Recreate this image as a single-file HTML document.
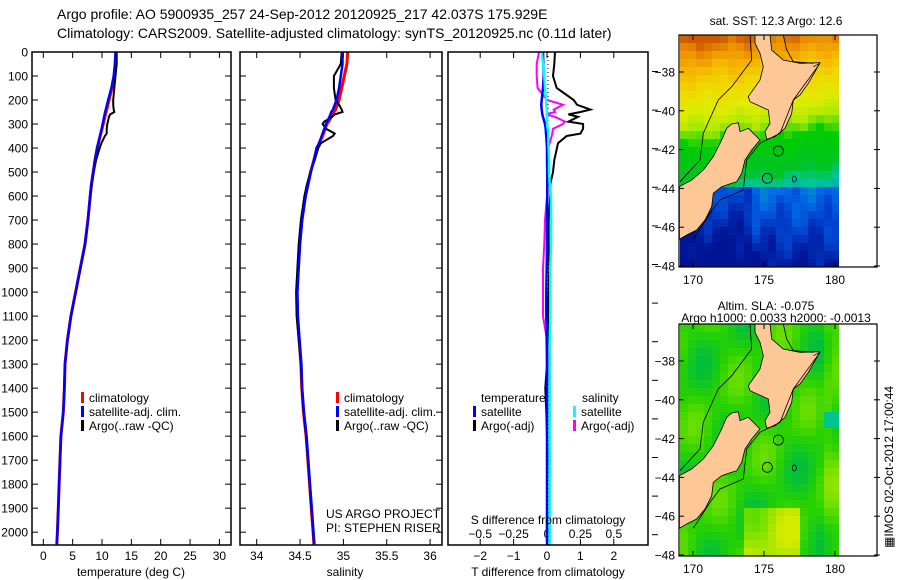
<!DOCTYPE html>
<html><head><meta charset="utf-8"><style>
body{margin:0;background:#fff;}
svg{display:block;font-family:"Liberation Sans",sans-serif;}
text{fill:#000;}
</style></head><body>
<svg id="fig" width="900" height="580" viewBox="0 0 900 580">
<text x="57" y="19" font-size="14">Argo profile: AO 5900935_257 24-Sep-2012 20120925_217 42.037S 175.929E</text>
<text x="57" y="38" font-size="14">Climatology: CARS2009. Satellite-adjusted climatology: synTS_20120925.nc (0.11d later)</text>
<g id="p1"></g>
<g id="p2"></g>
<g id="p3"></g>
<g id="m1"></g>
<g id="m2"></g>
<text transform="translate(893,548) rotate(-90)" font-size="12">&#9638;IMOS 02-Oct-2012 17:00:44</text>
</svg>
<script>
const depths=[0,50,100,150,200,220,240,250,260,270,290,300,320,340,350,380,400,450,500,550,600,700,800,900,1000,1100,1200,1300,1400,1500,1600,1700,1800,1900,2000,2050];
const tempClim=[12.4,12.3,12.1,11.7,11.2,11.0,10.8,10.7,10.6,10.5,10.3,10.2,10.0,9.8,9.7,9.4,9.2,8.8,8.5,8.2,8.0,7.6,7.1,6.3,5.5,4.7,4.1,3.7,3.6,3.4,3.0,2.85,2.7,2.55,2.4,2.3];
const tempSat=[12.3,12.2,12.0,11.6,11.05,10.85,10.65,10.55,10.45,10.35,10.2,10.1,9.95,9.75,9.65,9.35,9.15,8.8,8.5,8.2,7.95,7.6,7.1,6.3,5.5,4.7,4.1,3.7,3.6,3.4,3.0,2.85,2.7,2.55,2.4,2.3];
const tempArgo=[12.5,12.5,12.3,12.1,11.9,11.9,12.0,12.1,11.4,11.2,11.0,10.9,10.8,10.8,10.5,9.9,9.6,9.0,8.6,8.3,8.0,7.65,7.15,6.35,5.55,4.75,4.15,3.7,3.55,3.4,3.0,2.85,2.7,2.55,2.4,2.3];
const salClim=[35.05,35.04,35.01,34.98,34.95,34.93,34.91,34.89,34.88,34.86,34.83,34.81,34.79,34.77,34.76,34.72,34.70,34.66,34.62,34.59,34.56,34.52,34.495,34.48,34.465,34.47,34.49,34.51,34.52,34.54,34.57,34.59,34.61,34.63,34.65,34.66];
const salSat=[34.99,34.99,34.97,34.95,34.92,34.90,34.88,34.86,34.85,34.84,34.81,34.80,34.78,34.76,34.75,34.72,34.69,34.66,34.625,34.595,34.565,34.525,34.5,34.485,34.47,34.475,34.495,34.515,34.525,34.545,34.575,34.595,34.615,34.635,34.655,34.665];
const salArgo=[34.98,34.97,34.89,34.89,34.91,34.95,34.98,34.99,34.90,34.87,34.78,34.76,34.80,34.90,34.88,34.74,34.71,34.67,34.62,34.58,34.55,34.51,34.485,34.47,34.455,34.46,34.485,34.51,34.52,34.54,34.57,34.59,34.61,34.63,34.65,34.66];
const dTsat=[-0.12,-0.11,-0.1,-0.12,-0.16,-0.17,-0.16,-0.15,-0.14,-0.12,-0.08,-0.06,-0.04,-0.03,-0.02,-0.01,0,0,0.01,0.01,0.01,0,0,-0.01,-0.02,-0.02,-0.01,0,0,0,0,0,0,0,0,0];
const dTargo=[0.24,0.22,0.18,0.29,0.8,0.9,1.3,1.0,0.64,0.93,0.64,1.08,1.08,1.0,0.59,0.33,0.3,0.22,0.18,0.1,0.1,0.05,0.05,0.07,0.05,0.03,0.03,0,-0.05,-0.02,0,0.01,0,0,0,0];
const dSsat=[-0.04,-0.03,-0.02,-0.015,-0.007,-0.005,-0.003,0,0,0,0,0,0.005,0.01,0.01,0.01,0.012,0.015,0.015,0.02,0.03,0.03,0.03,0.025,0.025,0.025,0.02,0.02,0.02,0.02,0.02,0.02,0.02,0.02,0.02,0.02];
const dSargo=[-0.06,-0.077,-0.077,-0.07,0,0.12,0.05,0.06,-0.01,0.06,0.135,0.12,0.045,0.04,0.035,0.02,0.01,0.005,0.005,0,0,-0.015,-0.02,-0.03,-0.03,-0.03,0,0.01,0.02,0.02,0.02,0.02,0.02,0.02,0.02,0.02];
const depthTicks=[0,100,200,300,400,500,600,700,800,900,1000,1100,1200,1300,1400,1500,1600,1700,1800,1900,2000];
const tempTicks=[0,5,10,15,20,25,30];
const salTicks=[34,34.5,35,35.5,36];
const salTickLabels=["34","34.5","35","35.5","36"];
const dTTicks=[-2,-1,0,1,2];
const dSTicks=[-0.5,-0.25,0,0.25,0.5];
const dSTickLabels=["-0.5","-0.25","0","0.25","0.5"];
const latTicks=[38,40,42,44,46,48];
const lonTicks=[170,175,180];

const NS="http://www.w3.org/2000/svg";
function mk(parent,tag,attrs,txt){const e=document.createElementNS(NS,tag);for(const k in attrs)e.setAttribute(k,attrs[k]);if(txt!==undefined)e.textContent=txt;parent.appendChild(e);return e;}
const TOP=52,BOT=545;
const yD=d=>TOP+d*0.2401;
const xT=t=>43.3+t*5.87;
const xS=s=>256.7+(s-34)*86.7;
const xdT=v=>547+v*33.4;
const xdS=v=>547+v*133.6;

function frame(g,x0,x1){
  const r=mk(g,'rect',{x:x0,y:TOP,width:x1-x0,height:BOT-TOP,fill:'none',stroke:'#000','stroke-width':1.5});
  
  
}
function series(g,xs,fn,color,w,name){
  const pts=xs.map((v,i)=>fn(v).toFixed(1)+','+yD(depths[i]).toFixed(1)).join(' ');
  const p=mk(g,'polyline',{points:pts,fill:'none',stroke:color,'stroke-width':w,'stroke-linejoin':'miter'});
  
  
}
function legend(g,x,y,items,name){
  items.forEach((it,i)=>{
    const yy=y+i*14;
    const b=mk(g,'rect',{x:x,y:yy-10,width:3,height:11,fill:it[1]});
    
    
    const t=mk(g,'text',{x:x+8,y:yy,'font-size':12},it[0]);
    
    
  });
}

// Panel 1
const p1=document.getElementById('p1');
depthTicks.forEach(d=>{
  const y=yD(d);
  mk(p1,'line',{x1:32,x2:38,y1:y,y2:y,stroke:'#000'});
  mk(p1,'line',{x1:225,x2:231,y1:y,y2:y,stroke:'#000'});
  const t=mk(p1,'text',{x:28,y:y+4.5,'font-size':12,'text-anchor':'end'},String(d));
  
  
});
tempTicks.forEach(v=>{
  const x=xT(v);
  mk(p1,'line',{x1:x,x2:x,y1:TOP,y2:TOP+6,stroke:'#000'});
  mk(p1,'line',{x1:x,x2:x,y1:BOT-6,y2:BOT,stroke:'#000'});
  const t=mk(p1,'text',{x:x,y:560,'font-size':12,'text-anchor':'middle'},String(v));
  
  
});
series(p1,tempClim,xT,'#f00',3,'temp-climatology-line');
series(p1,tempArgo,xT,'#000',2,'temp-argo-line');
series(p1,tempSat,xT,'#00f',2.5,'temp-satellite-line');
frame(p1,32,231);
legend(p1,81,402,[['climatology','#f00'],['satellite-adj. clim.','#00f'],['Argo(..raw -QC)','#000']],'temp-legend');
let tt=mk(p1,'text',{x:131,y:576,'font-size':12,'text-anchor':'middle'},'temperature (deg C)');



// Panel 2
const p2=document.getElementById('p2');
depthTicks.forEach(d=>{
  const y=yD(d);
  mk(p2,'line',{x1:240,x2:246,y1:y,y2:y,stroke:'#000'});
  mk(p2,'line',{x1:436,x2:442,y1:y,y2:y,stroke:'#000'});
});
salTicks.forEach((v,i)=>{
  const x=xS(v);
  mk(p2,'line',{x1:x,x2:x,y1:TOP,y2:TOP+6,stroke:'#000'});
  mk(p2,'line',{x1:x,x2:x,y1:BOT-6,y2:BOT,stroke:'#000'});
  const t=mk(p2,'text',{x:x,y:560,'font-size':12,'text-anchor':'middle'},salTickLabels[i]);
  
  
});
series(p2,salClim,xS,'#f00',3,'sal-climatology-line');
series(p2,salArgo,xS,'#000',2,'sal-argo-line');
series(p2,salSat,xS,'#00f',2.5,'sal-satellite-line');
frame(p2,240,442);
legend(p2,336,402,[['climatology','#f00'],['satellite-adj. clim.','#00f'],['Argo(..raw -QC)','#000']],'sal-legend');
tt=mk(p2,'text',{x:345,y:576,'font-size':12,'text-anchor':'middle'},'salinity');


tt=mk(p2,'text',{x:326,y:518,'font-size':12},'US ARGO PROJECT');


tt=mk(p2,'text',{x:326,y:532,'font-size':12},'PI: STEPHEN RISER');



// Panel 3
const p3=document.getElementById('p3');
mk(p3,'line',{x1:548,x2:548,y1:TOP,y2:BOT,stroke:'#000','stroke-dasharray':'1,3'});
dTTicks.forEach(v=>{
  const x=xdT(v);
  mk(p3,'line',{x1:x,x2:x,y1:BOT-6,y2:BOT,stroke:'#000'});
  const t=mk(p3,'text',{x:x,y:560,'font-size':12,'text-anchor':'middle'},v<0?'\u2212'+(-v):String(v));
  
  
});
dSTicks.forEach((v,i)=>{
  const x=xdS(v);
  mk(p3,'line',{x1:x,x2:x,y1:TOP,y2:TOP+6,stroke:'#000'});
  const t=mk(p3,'text',{x:x,y:538,'font-size':12,'text-anchor':'middle'},dSTickLabels[i].replace('-','\u2212'));
  
  
});
for(let k=0;k<13;k++){const y=71.5+k*38.6;if(y<BOT)mk(p3,'line',{x1:652,x2:658,y1:y,y2:y,stroke:'#000'});}
series(p3,dTargo,xdT,'#000',2,'t-diff-argo-line');
series(p3,dSargo,xdS,'#f0f',2,'s-diff-argo-line');
series(p3,dTsat,xdT,'#00f',2.5,'t-diff-satellite-line');
series(p3,dSsat,xdS,'#0ff',2.5,'s-diff-satellite-line');
frame(p3,448,648);
tt=mk(p3,'text',{x:481,y:402,'font-size':12},'temperature');


tt=mk(p3,'text',{x:582,y:402,'font-size':12},'salinity');


legend(p3,473,416,[['satellite','#00f'],['Argo(-adj)','#000']],'t-diff-legend');
legend(p3,573,416,[['satellite','#0ff'],['Argo(-adj)','#f0f']],'s-diff-legend');
tt=mk(p3,'text',{x:548,y:524,'font-size':12,'text-anchor':'middle'},'S difference from climatology');


tt=mk(p3,'text',{x:548,y:576,'font-size':12,'text-anchor':'middle'},'T difference from climatology');



// Maps
const north=[[285,105],[330,105],[335,150],[370,180],[420,190],[480,188],[465,215],[445,250],[420,285],[400,300],[395,340],[375,385],[345,410],[320,418],[315,395],[330,370],[325,330],[270,305],[265,290],[300,240],[310,200],[300,160],[285,130]];
const south=[[215,372],[235,368],[240,395],[265,385],[285,405],[300,420],[275,450],[255,480],[245,520],[230,545],[215,550],[185,560],[160,580],[155,620],[135,660],[110,690],[80,705],[58,718],[58,560],[95,540],[130,510],[160,470],[185,420],[200,385]];
function sstColor(lat,lon){
  const n=0.35*Math.sin(lon*2.1+lat*1.3)+0.25*Math.cos(lon*3.7-lat*2.2);
  let v=lat-36+n*0.5+(lon-175)*0.08;
  if(lat>43.9) v=10+(lat-44)*0.6+n*1.2+(lon<174?0.8:0);
  const stops=[[0,[205,90,0]],[0.6,[235,140,0]],[1.4,[245,180,0]],[2.4,[240,215,0]],[3.6,[225,235,0]],[4.6,[170,235,0]],[5.4,[0,205,0]],[7.2,[0,195,40]],[7.8,[0,200,150]],[10,[0,110,230]],[11,[0,70,210]],[12.5,[0,20,150]]];
  return interp(stops,v);
}
function slaColor(lat,lon){
  let v=0.55+0.3*Math.sin(lon*0.9+lat*1.2)+0.25*Math.cos(lon*1.5-lat*0.7);
  if(lat>45.6&&lon>173.5&&lon<177.5) v+=1.0;
  if(lon>179) v+=0.3;
  if(lat>40.6&&lat<41.6&&lon>179) v=-0.6;
  const stops=[[-1,[0,200,200]],[0,[0,190,60]],[0.6,[40,210,0]],[1.2,[120,225,0]],[2,[215,235,0]]];
  return interp(stops,v);
}
function interp(stops,v){
  if(v<=stops[0][0])return 'rgb('+stops[0][1].join(',')+')';
  for(let i=1;i<stops.length;i++){
    if(v<=stops[i][0]){const a=stops[i-1],b=stops[i];const f=(v-a[0])/(b[0]-a[0]);
      return 'rgb('+a[1].map((c,j)=>Math.round(c+(b[1][j]-c)*f)).join(',')+')';}
  }
  return 'rgb('+stops[stops.length-1][1].join(',')+')';
}
function drawMap(id,top,colorFn,title1,title2){
  const g=document.getElementById(id);
  const bot=top+232;
  const latY=lat=>top+37+(lat-38)*19.4;
  const lonX=lon=>693+(lon-170)*14.2;
  const cell=mk(g,'g',{});
  for(let x=680;x<839;x+=8){
    for(let y=top;y<bot;y+=8){
      const lon=170+(x+4-693)/14.2, lat=38+(y+4-top-37)/19.4;
      mk(cell,'rect',{x:x,y:y,width:Math.min(8,839-x),height:Math.min(8,bot-y),fill:colorFn(lat,lon)});
    }
  }
  const s=1/3, ox=660, oy=top-35;
  const toP=pts=>pts.map(p=>(ox+p[0]*s).toFixed(1)+','+(oy+p[1]*s).toFixed(1)).join(' ');
  const n=mk(g,'polygon',{points:toP(north),fill:'#fdc896',stroke:'#000','stroke-width':0.8});
  
  
  const so=mk(g,'polygon',{points:toP(south),fill:'#fdc896',stroke:'#000','stroke-width':0.8});
  
  
  mk(g,'polyline',{points:toP([[270,105],[275,180],[215,260],[175,300],[130,400],[120,480],[60,545]]),fill:'none',stroke:'#000','stroke-width':0.8});
  mk(g,'polyline',{points:toP([[460,200],[480,190],[400,300],[360,400],[300,430],[260,480],[250,570],[180,600],[150,640],[100,718]]),fill:'none',stroke:'#000','stroke-width':0.8});
  mk(g,'polyline',{points:toP([[370,105],[380,150],[400,185],[460,190]]),fill:'none',stroke:'#000','stroke-width':0.8});
  mk(g,'circle',{cx:ox+355*s,cy:oy+453*s,r:5,fill:'none',stroke:'#000','stroke-width':0.8});
  mk(g,'circle',{cx:ox+322*s,cy:oy+535*s,r:5,fill:'none',stroke:'#000','stroke-width':0.8});
  mk(g,'ellipse',{cx:ox+403*s,cy:oy+537*s,rx:2,ry:3,fill:'none',stroke:'#000','stroke-width':0.8});
  const fr=mk(g,'rect',{x:679,y:top,width:198,height:bot-top,fill:'none',stroke:'#000','stroke-width':1.2});
  
  
  latTicks.forEach(l=>{
    const y=latY(l);
    mk(g,'line',{x1:679,x2:684,y1:y,y2:y,stroke:'#000'});
    mk(g,'line',{x1:874,x2:880,y1:y,y2:y,stroke:'#000'});
    const t=mk(g,'text',{x:675,y:y+4.5,'font-size':12,'text-anchor':'end'},'\u2212'+l);
    
    
  });
  lonTicks.forEach(l=>{
    const x=lonX(l);
    mk(g,'line',{x1:x,x2:x,y1:bot-5,y2:bot,stroke:'#000'});
    mk(g,'line',{x1:x,x2:x,y1:top,y2:top+5,stroke:'#000'});
    const t=mk(g,'text',{x:x,y:bot+17,'font-size':12,'text-anchor':'middle'},String(l));
    
    
  });
  if(title2){
    let t=mk(g,'text',{x:766,y:top-14,'font-size':12,'text-anchor':'middle'},title1);
    
    
    t=mk(g,'text',{x:776,y:top-2,'font-size':12,'text-anchor':'middle'},title2);
    
    
  } else {
    const t=mk(g,'text',{x:776,y:top-10,'font-size':12,'text-anchor':'middle'},title1);
    
    
  }
}
drawMap('m1',35,sstColor,'sat. SST: 12.3 Argo: 12.6');
drawMap('m2',324,slaColor,'Altim. SLA: -0.075','Argo h1000: 0.0033 h2000: -0.0013');
</script>
</body></html>
